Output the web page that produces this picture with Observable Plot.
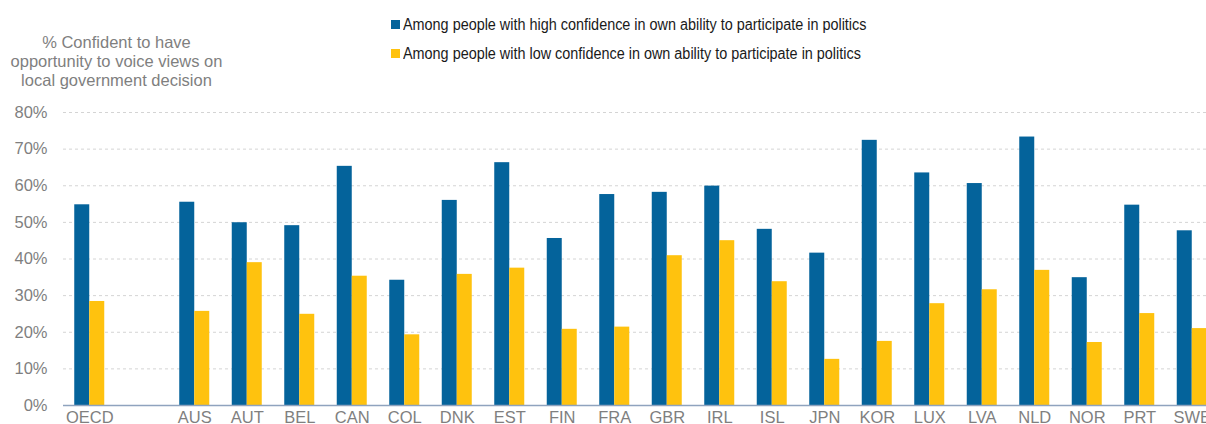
<!DOCTYPE html>
<html>
<head>
<meta charset="utf-8">
<script src="https://cdn.jsdelivr.net/npm/d3@7"></script>
<script src="https://cdn.jsdelivr.net/npm/@observablehq/plot@0.6"></script>
<style>
  html, body { margin: 0; padding: 0; background: #fff; }
  body { width: 1206px; height: 424px; overflow: hidden; position: relative;
         font-family: "Liberation Sans", Arial, sans-serif; }
  #ytitle { position: absolute; left: 0; top: 33px; width: 233px; text-align: center;
            color: #7f7f7f; font-size: 16.5px; line-height: 19px; }
  #legend { position: absolute; left: 391px; top: 10px; font-size: 16px; color: #1a1a1a; }
  .lg-row { height: 29px; display: flex; align-items: center; white-space: nowrap; }
  .lg-sw { width: 9px; height: 9px; margin-right: 3px; flex: none; }
  .lg-tx { display: inline-block; transform: scaleX(0.9); transform-origin: 0 50%; }
  #chart { position: absolute; left: 0; top: 100px; width: 1206px; height: 324px; overflow: hidden; }
</style>
</head>
<body>
<div id="ytitle"></div>
<div id="legend"></div>
<div id="chart"></div>
<script>
// ---- data ----
const countries = ["OECD","AUS","AUT","BEL","CAN","COL","DNK","EST","FIN","FRA","GBR","IRL","ISL","JPN","KOR","LUX","LVA","NLD","NOR","PRT","SWE"];
const slots = ["OECD"," ","AUS","AUT","BEL","CAN","COL","DNK","EST","FIN","FRA","GBR","IRL","ISL","JPN","KOR","LUX","LVA","NLD","NOR","PRT","SWE"];
const highConfidence = [54.8,55.5,49.9,49.1,65.3,34.2,56.0,66.3,45.6,57.6,58.2,59.9,48.1,41.6,72.4,63.5,60.6,73.3,34.9,54.7,47.7];
const lowConfidence  = [28.4,25.7,39.0,24.9,35.3,19.3,35.8,37.5,20.8,21.4,40.9,45.0,33.8,12.6,17.5,27.8,31.6,36.9,17.2,25.1,21.0];
const seriesNames = ["Among people with high confidence in own ability to participate in politics",
                     "Among people with low confidence in own ability to participate in politics"];
const seriesColors = ["#04639b", "#ffc20e"];
const yTicks = [0,10,20,30,40,50,60,70,80];
const yTitleLines = ["% Confident to have", "opportunity to voice views on", "local government decision"];

// ---- header text ----
document.getElementById("ytitle").innerHTML = yTitleLines.join("<br>");
const legend = document.getElementById("legend");
seriesNames.forEach((name, i) => {
  const row = document.createElement("div");
  row.className = "lg-row";
  const sw = document.createElement("span");
  sw.className = "lg-sw";
  sw.style.background = seriesColors[i];
  const tx = document.createElement("span");
  tx.className = "lg-tx";
  tx.textContent = name;
  row.append(sw, tx);
  legend.append(row);
});

// ---- chart ----
const highRows = countries.map((c, i) => ({country: c, value: highConfidence[i]}));
const lowRows = countries.map((c, i) => ({country: c, value: lowConfidence[i]}));

const plotLeft = 63, plotRight = 1218;
const step = (plotRight - plotLeft) / slots.length;
const barW = 15;
const half = step / 2;

const chart = Plot.plot({
  width: 1206,
  height: 324,
  marginTop: 12,
  marginBottom: 19,
  marginLeft: plotLeft,
  marginRight: 0,
  style: {fontFamily: "'Liberation Sans', Arial, sans-serif", fontSize: "16.5px", color: "#7f7f7f", background: "#fff"},
  x: {domain: slots, range: [plotLeft, plotRight], padding: 0, round: false},
  y: {domain: [0, 80]},
  marks: [
    Plot.gridY(yTicks.filter(d => d > 0), {stroke: "#d4d4d4", strokeOpacity: 1, strokeDasharray: "3,3"}),
    Plot.barY(highRows, {x: "country", y: "value", fill: seriesColors[0],
      insetLeft: half - barW, insetRight: half}),
    Plot.barY(lowRows, {x: "country", y: "value", fill: seriesColors[1],
      insetLeft: half, insetRight: half - barW}),
    Plot.ruleY([0], {stroke: "#8fa3be", strokeWidth: 1.5}),
    Plot.axisY(yTicks, {label: null, tickSize: 0, tickPadding: 16, tickFormat: d => d + "%", fontSize: 16.5}),
    Plot.axisX({label: null, tickSize: 0, tickPadding: 6, fontSize: 16.5})
  ]
});
document.getElementById("chart").append(chart);
</script>
</body>
</html>
